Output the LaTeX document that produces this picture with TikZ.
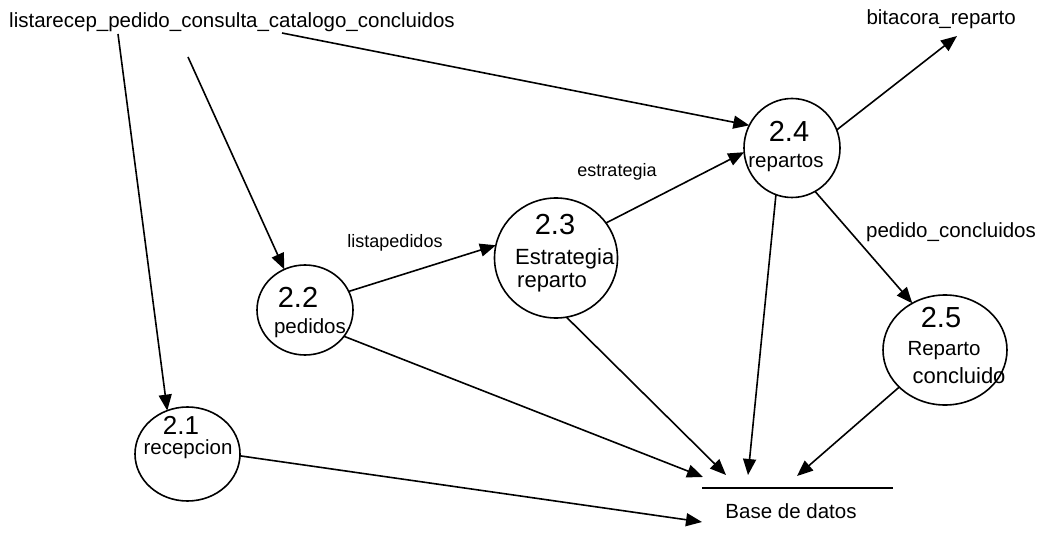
\documentclass[tikz,border=0pt]{standalone}
\usepackage{fontspec}
\setmainfont{Liberation Sans}
\usetikzlibrary{arrows.meta,shapes.geometric}
\begin{document}
\begin{tikzpicture}[x=1pt,y=-1pt,
  proc/.style={draw, ellipse, line width=1.6pt, inner sep=0pt, outer sep=0pt},
  flow/.style={line width=1.6pt, -{Triangle[length=16pt,width=13pt]}},
  txt/.style={font=\fontsize{20.5}{24}\selectfont, inner sep=0pt},
  big/.style={font=\fontsize{22}{26}\selectfont, inner sep=0pt},
  lbl/.style={font=\fontsize{18}{21}\selectfont, inner sep=0pt},
  num/.style={font=\fontsize{29}{33}\selectfont, inner sep=0pt}]
\useasboundingbox (0,0) rectangle (1040,545);

% process bubbles
\node[proc, minimum width=105pt, minimum height=94pt]  (c21) at (187.5,454) {};
\node[proc, minimum width=96pt,  minimum height=90pt]  (c22) at (305,310) {};
\node[proc, minimum width=123pt, minimum height=120pt] (c23) at (556,258) {};
\node[proc, minimum width=96pt,  minimum height=99pt]  (c24) at (792,148) {};
\node[proc, minimum width=124pt, minimum height=110pt] (c25) at (945,350) {};

% bubble captions
\node[num, font=\fontsize{26}{30}\selectfont, anchor=base] (n21) at (181,434) {2.1};
\node[txt, anchor=base] (t21) at (188,454) {recepcion};
\node[num, anchor=base] (n22) at (298,307) {2.2};
\node[txt, anchor=base] (t22) at (310,333) {pedidos};
\node[num, anchor=base] (n23) at (555,235) {2.3};
\node[big, anchor=base west] (t23a) at (515,264) {Estrategia};
\node[big, anchor=base west] (t23b) at (517,287) {reparto};
\node[num, anchor=base] (n24) at (789,142) {2.4};
\node[txt, anchor=base] (t24) at (786,168) {repartos};
\node[num, anchor=base] (n25) at (941,327) {2.5};
\node[txt, anchor=base] (t25a) at (944,355) {Reparto};
\node[big, anchor=base] (t25b) at (959,383) {concluido};

% external entities and store
\node[txt, anchor=base west] (src) at (9,28) {listarecep\_pedido\_consulta\_catalogo\_concluidos};
\node[txt, anchor=base east] (bit) at (1016,25) {bitacora\_reparto};
\node[txt, anchor=base] (db) at (791,518) {Base de datos};
\coordinate (dbl) at (702,488);
\coordinate (dbr) at (893,488);
\draw[line width=1.8pt] (dbl) -- (dbr);

% connector ends
\coordinate (s1) at (118,34);
\coordinate (s2) at (188,57);
\coordinate (s3) at (282,33);
\coordinate (b1) at (957,36);
\coordinate (d1) at (703,477);
\coordinate (d2) at (726,475);
\coordinate (d3) at (748,475);
\coordinate (d4) at (797,476);
\coordinate (d5) at (702,522);

% flows
\draw[flow] (s1) -- (c21.115.6);
\draw[flow] (s2) -- (c22.117);
\draw[flow] (s3) -- (c24.152.4);
\draw[flow] (c22.23) -- (c23.168.5);
\draw[flow] (c23.35) -- (c24.185);
\draw[flow] (c24.22.4) -- (b1);
\draw[flow] (c24.-62) -- (c25.125.4);
\draw[flow] (c22.-34) -- (d1);
\draw[flow] (c23.-80.7) -- (d2);
\draw[flow] (c24.-109) -- (d3);
\draw[flow] (c25.219.5) -- (d4);
\draw[flow] (c21.-2) -- (d5);

% flow labels
\node[lbl] (l1) at (395,243) {listapedidos};
\node[lbl] (l2) at (617,172) {estrategia};
\node[txt] (l3) at (951,232) {pedido\_concluidos};
\end{tikzpicture}
\end{document}
